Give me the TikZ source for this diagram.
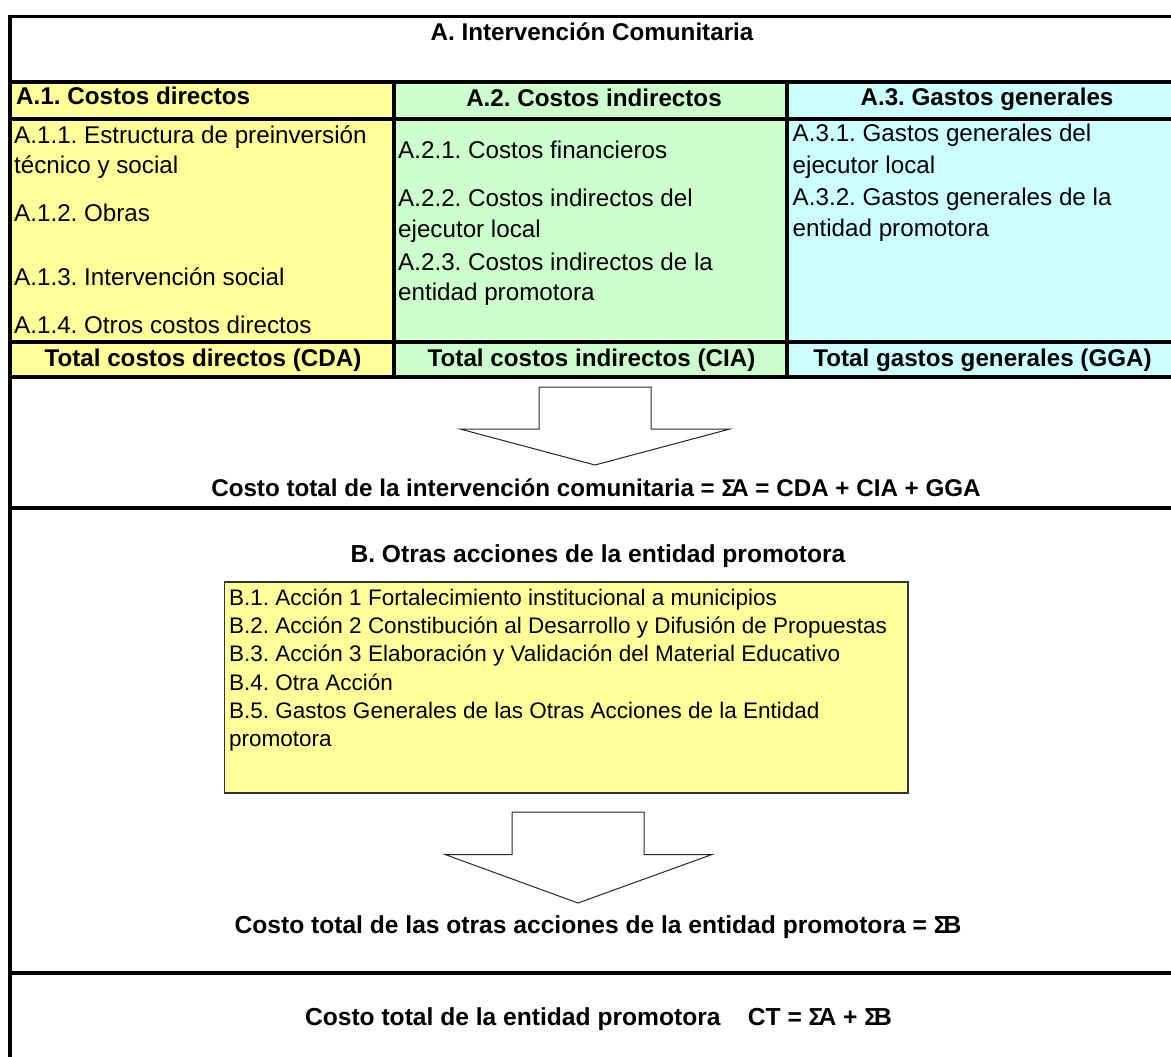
\documentclass[tikz,border=0pt]{standalone}
\usepackage{fontspec}
\setmainfont{Liberation Sans}
\definecolor{cyel}{HTML}{FFFF99}
\definecolor{cgrn}{HTML}{CCFFCC}
\definecolor{ccya}{HTML}{CCFFFF}
\newcommand\mysig{Σ\kern-0.2em}
\frenchspacing
\begin{document}
\begin{tikzpicture}[x=1pt,y=-1pt,
  txt/.style={anchor=base west,inner sep=0pt,font=\fontsize{24.2}{29}\selectfont},
  btxtsm/.style={anchor=base west,inner sep=0pt,font=\fontsize{22.5}{28}\selectfont},
  btxt/.style={anchor=base,inner sep=0pt,font=\fontsize{24.2}{29}\selectfont\bfseries},
  sumtxt/.style={anchor=base,inner sep=0pt,font=\fontsize{24.6}{29}\selectfont\bfseries},
  bltxt/.style={anchor=base west,inner sep=0pt,font=\fontsize{24.2}{29}\selectfont\bfseries},
  rule/.style={line width=4pt},
  blockarrow/.style={draw=black!85,fill=white,line width=1pt,line join=miter},
  bbox/.style={draw=black!80,fill=cyel,line width=1.2pt}]
\useasboundingbox (0,0) rectangle (1171,1057);
% fills
\fill[cyel] (10,82) rectangle (393,377);
\fill[cgrn] (393,82) rectangle (787,377);
\fill[ccya] (787,82) rectangle (1175,377);
% rules
\draw[line width=3pt] (8,17) -- (1175,17);
\draw[rule] (10,15.5) -- (10,1060);
\draw[rule] (8,82) -- (1175,82);
\draw[rule] (8,118.5) -- (1175,118.5);
\draw[rule] (8,342) -- (1175,342);
\draw[rule] (8,377) -- (1175,377);
\draw[rule] (393.5,82) -- (393.5,377);
\draw[rule] (787,82) -- (787,377);
\draw[rule] (8,508) -- (1175,508);
\draw[rule] (8,972.5) -- (1175,972.5);
% title
\node[btxt] (title) at (592,40.7) {A. Intervención Comunitaria};
% headers
\node[bltxt] (h1) at (16,104) {A.1. Costos directos};
\node[btxt] (h2) at (594,106.5) {A.2. Costos indirectos};
\node[btxt] (h3) at (987,106) {A.3. Gastos generales};
% column 1
\node[txt] (a11) at (14,143.3) {A.1.1. Estructura de preinversión};
\node[txt] (a11b) at (14,173.5) {técnico y social};
\node[txt] (a12) at (14,221.7) {A.1.2. Obras};
\node[txt] (a13) at (14,285.7) {A.1.3. Intervención social};
\node[txt] (a14) at (14,333) {A.1.4. Otros costos directos};
% column 2
\node[txt] (a21) at (398,158.3) {A.2.1. Costos financieros};
\node[txt] (a22) at (398,206) {A.2.2. Costos indirectos del};
\node[txt] (a22b) at (398,237.7) {ejecutor local};
\node[txt] (a23) at (398,270) {A.2.3. Costos indirectos de la};
\node[txt] (a23b) at (398,300.5) {entidad promotora};
% column 3
\node[txt] (a31) at (792.5,141.7) {A.3.1. Gastos generales del};
\node[txt] (a31b) at (792.5,173.3) {ejecutor local};
\node[txt] (a32) at (792.5,205) {A.3.2. Gastos generales de la};
\node[txt] (a32b) at (792.5,236.7) {entidad promotora};
% totals
\node[btxt] (t1) at (203,366.7) {Total costos directos (CDA)};
\node[btxt] (t2) at (591.5,366.7) {Total costos indirectos (CIA)};
\node[btxt] (t3) at (982.5,366.3) {Total gastos generales (GGA)};
% arrow 1
\draw[blockarrow] (539,387) -- (651,387) -- (651,429) -- (730,429) -- (595,465)
  -- (460,429) -- (539,429) -- cycle;
\node[btxt] (sumA) at (596,496.7) {Costo total de la intervención comunitaria = \mysig A = CDA + CIA + GGA};
% section B
\node[sumtxt] (btitle) at (598,562.3) {B. Otras acciones de la entidad promotora};
\draw[bbox] (224.5,582) rectangle (908,793);
\node[btxtsm] (b1) at (229,605) {B.1. Acción 1 Fortalecimiento institucional a municipios};
\node[btxtsm] (b2) at (229,633.3) {B.2. Acción 2 Constibución al Desarrollo y Difusión de Propuestas};
\node[btxtsm] (b3) at (229,661.7) {B.3. Acción 3 Elaboración y Validación del Material Educativo};
\node[btxtsm] (b4) at (229,690) {B.4. Otra Acción};
\node[btxtsm] (b5) at (229,718.3) {B.5. Gastos Generales de las Otras Acciones de la Entidad};
\node[btxtsm] (b5b) at (229,746.7) {promotora};
% arrow 2
\draw[blockarrow] (512,812) -- (644,812) -- (644,854.5) -- (712,854.5) -- (578,903)
  -- (445,854.5) -- (512,854.5) -- cycle;
\node[sumtxt] (sumB) at (598,933.3) {Costo total de las otras acciones de la entidad promotora = \mysig B};
% bottom
\node[sumtxt] (ct) at (598.5,1025.7) {Costo total de la entidad promotora \ \ \ CT = \mysig A + \mysig B};
\end{tikzpicture}
\end{document}
